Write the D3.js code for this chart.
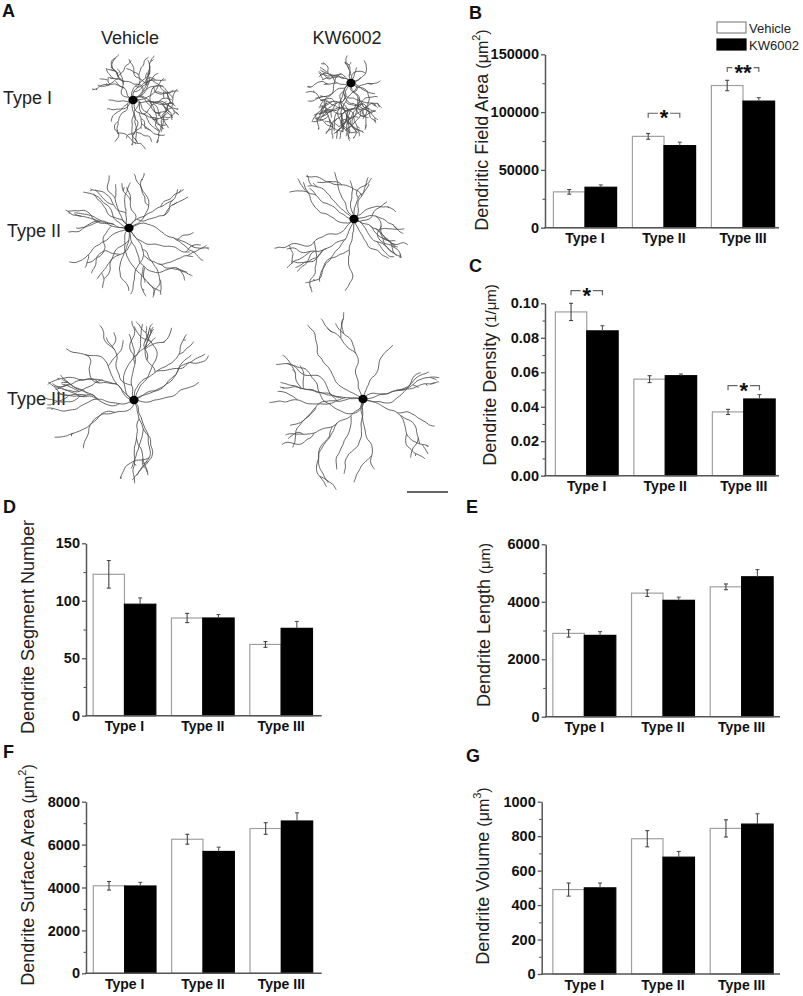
<!DOCTYPE html>
<html><head><meta charset="utf-8">
<script src="https://cdn.jsdelivr.net/npm/d3@7"></script>
<style>
body{margin:0;background:#fff}
text{font-family:Arial,"Liberation Sans",sans-serif}
</style></head>
<body><svg id="fig" width="803" height="996"></svg>
<script>
// ---------------- DATA ----------------
const categories = ["Type I", "Type II", "Type III"];
const seriesNames = ["Vehicle", "KW6002"];

const fieldAreaVehicle = [31000, 79000, 123000];
const fieldAreaVehicleErr = [2000, 2500, 4500];
const fieldAreaKW = [35000, 71000, 109500];
const fieldAreaKWErr = [2000, 3000, 3000];
const fieldAreaTicks = [0, 50000, 100000, 150000];
const fieldAreaSig = [{cat: "Type II", label: "*", level: 99000}, {cat: "Type III", label: "**", level: 138500}];

const densityVehicle = [0.095, 0.056, 0.037];
const densityVehicleErr = [0.005, 0.002, 0.0015];
const densityKW = [0.084, 0.058, 0.0445];
const densityKWErr = [0.003, 0.001, 0.0025];
const densityTicks = [0, 0.02, 0.04, 0.06, 0.08, 0.10];
const densitySig = [{cat: "Type I", label: "*", level: 0.1073}, {cat: "Type III", label: "*", level: 0.0522}];

const segmentVehicle = [123, 85, 62];
const segmentVehicleErr = [12, 4, 2.5];
const segmentKW = [97, 85, 76];
const segmentKWErr = [5.5, 3, 6];
const segmentTicks = [0, 50, 100, 150];

const lengthVehicle = [2900, 4300, 4520];
const lengthVehicleErr = [130, 115, 100];
const lengthKW = [2830, 4050, 4870];
const lengthKWErr = [130, 110, 250];
const lengthTicks = [0, 2000, 4000, 6000];

const surfaceVehicle = [4080, 6250, 6750];
const surfaceVehicleErr = [200, 230, 270];
const surfaceKW = [4070, 5680, 7100];
const surfaceKWErr = [170, 200, 380];
const surfaceTicks = [0, 2000, 4000, 6000, 8000];

const volumeVehicle = [490, 785, 845];
const volumeVehicleErr = [38, 47, 50];
const volumeKW = [500, 678, 870];
const volumeKWErr = [28, 33, 60];
const volumeTicks = [0, 200, 400, 600, 800, 1000];

// ---------------- LAYOUT ----------------
const svg = d3.select("#fig");
const AXIS = "#555";

const panels = [
  {letter: "B", lx: 469, ly: 19, axisX: 545, axisEnd: 779, bx: [545.5, 782.5], y0: 227.7, yTop: 54.3,
   ticks: fieldAreaTicks, fmt: d3.format("d"), v: fieldAreaVehicle, ve: fieldAreaVehicleErr, k: fieldAreaKW, ke: fieldAreaKWErr,
   sig: fieldAreaSig, title: ["Dendritic Field Area ", "(\u03bcm", "2", ")"], tx: 488, ty: 130},
  {letter: "C", lx: 469, ly: 272, axisX: 545, axisEnd: 779, bx: [547.5, 783], y0: 475.7, yTop: 303.3,
   ticks: densityTicks, fmt: d3.format(".2f"), v: densityVehicle, ve: densityVehicleErr, k: densityKW, ke: densityKWErr,
   sig: densitySig, title: ["Dendrite Density ", "(1/\u03bcm)"], tx: 496, ty: 375},
  {letter: "D", lx: 3, ly: 513, axisX: 86, axisEnd: 321.7, bx: [85.3, 320.3], y0: 715.7, yTop: 543.3,
   ticks: segmentTicks, fmt: d3.format("d"), v: segmentVehicle, ve: segmentVehicleErr, k: segmentKW, ke: segmentKWErr,
   sig: [], title: ["Dendrite Segment Number"], tx: 34, ty: 627},
  {letter: "E", lx: 466, ly: 513, axisX: 545.7, axisEnd: 780, bx: [545, 781], y0: 716.7, yTop: 544.3,
   ticks: lengthTicks, fmt: d3.format("d"), v: lengthVehicle, ve: lengthVehicleErr, k: lengthKW, ke: lengthKWErr,
   sig: [], title: ["Dendrite Length ", "(\u03bcm)"], tx: 490, ty: 625},
  {letter: "F", lx: 3, ly: 758, axisX: 86, axisEnd: 321.7, bx: [85.5, 320.5], y0: 973.3, yTop: 801.7,
   ticks: surfaceTicks, fmt: d3.format("d"), v: surfaceVehicle, ve: surfaceVehicleErr, k: surfaceKW, ke: surfaceKWErr,
   sig: [], title: ["Dendrite Surface Area ", "(\u03bcm", "2", ")"], tx: 34, ty: 875},
  {letter: "G", lx: 466, ly: 762, axisX: 541.7, axisEnd: 780, bx: [545, 781], y0: 974, yTop: 801.7,
   ticks: volumeTicks, fmt: d3.format("d"), v: volumeVehicle, ve: volumeVehicleErr, k: volumeKW, ke: volumeKWErr,
   sig: [], title: ["Dendrite Volume ", "(\u03bcm", "3", ")"], tx: 489, ty: 876}
];

function drawTitle(g, p) {
  const t = g.append("text")
    .attr("transform", `translate(${p.tx},${p.ty}) rotate(-90)`)
    .attr("text-anchor", "middle")
    .attr("font-size", 18).attr("fill", "#222");
  t.append("tspan").text(p.title[0]);
  if (p.title.length === 2) {
    t.append("tspan").attr("font-size", 15).text(p.title[1]);
  } else if (p.title.length === 4) {
    t.append("tspan").attr("font-size", 16).text(p.title[1]);
    t.append("tspan").attr("font-size", 11).attr("dy", -8).text(p.title[2]);
    t.append("tspan").attr("font-size", 16).attr("dy", 8).text(p.title[3]);
  }
}

function drawPanel(p) {
  const g = svg.append("g");
  const x = d3.scaleBand().domain(categories).range(p.bx).paddingInner(0.2).paddingOuter(0.1);
  const sub = d3.scaleBand().domain(seriesNames).range([0, x.bandwidth()]);
  const y = d3.scaleLinear().domain([p.ticks[0], p.ticks[p.ticks.length - 1]]).range([p.y0, p.yTop]);

  const rows = [];
  categories.forEach((c, i) => {
    rows.push({c, s: "Vehicle", v: p.v[i], e: p.ve[i]});
    rows.push({c, s: "KW6002", v: p.k[i], e: p.ke[i]});
  });

  g.selectAll("rect.bar").data(rows).join("rect")
    .attr("x", d => x(d.c) + sub(d.s))
    .attr("y", d => y(d.v))
    .attr("width", sub.bandwidth())
    .attr("height", d => p.y0 - y(d.v))
    .attr("fill", d => d.s === "Vehicle" ? "#fff" : "#000")
    .attr("stroke", d => d.s === "Vehicle" ? "#a0a0a0" : "#000")
    .attr("stroke-width", 1.2);

  const eb = g.selectAll("g.err").data(rows).join("g")
    .attr("stroke", d => d.s === "Vehicle" ? "#444" : "#555").attr("stroke-width", 1.1);
  const cx = d => x(d.c) + sub(d.s) + sub.bandwidth() / 2;
  eb.append("line").attr("x1", cx).attr("x2", cx)
    .attr("y1", d => d.s === "Vehicle" ? y(d.v - d.e) : y(d.v)).attr("y2", d => y(d.v + d.e));
  eb.append("line").attr("x1", d => cx(d) - 2).attr("x2", d => cx(d) + 2)
    .attr("y1", d => y(d.v + d.e)).attr("y2", d => y(d.v + d.e));
  eb.filter(d => d.s === "Vehicle").append("line").attr("x1", d => cx(d) - 2).attr("x2", d => cx(d) + 2)
    .attr("y1", d => y(d.v - d.e)).attr("y2", d => y(d.v - d.e));

  const ya = g.append("g").attr("transform", `translate(${p.axisX},0)`)
    .call(d3.axisLeft(y).tickValues(p.ticks).tickSize(4).tickSizeOuter(0).tickPadding(2).tickFormat(p.fmt));
  ya.select(".domain").attr("stroke", AXIS).attr("stroke-width", 1.5);
  ya.selectAll(".tick line").attr("stroke", AXIS).attr("stroke-width", 1.3);
  ya.selectAll(".tick text").attr("font-family", "Arial, 'Liberation Sans', sans-serif")
    .attr("font-size", 14.5).attr("font-weight", "bold").attr("fill", "#111");
  const minor = d3.pairs(p.ticks).map(([a, b]) => (a + b) / 2);
  const ym = g.append("g").attr("transform", `translate(${p.axisX},0)`)
    .call(d3.axisLeft(y).tickValues(minor).tickSize(2.5).tickSizeOuter(0).tickFormat(""));
  ym.select(".domain").remove();
  ym.selectAll(".tick line").attr("stroke", AXIS).attr("stroke-width", 1.1);

  g.append("line").attr("x1", p.axisX - 0.7).attr("x2", p.axisEnd).attr("y1", p.y0).attr("y2", p.y0)
    .attr("stroke", AXIS).attr("stroke-width", 1.5);
  g.selectAll("text.xl").data(categories).join("text")
    .attr("x", c => x(c) + x.bandwidth() / 2).attr("y", p.y0 + 15.5)
    .attr("text-anchor", "middle").attr("font-size", 14).attr("font-weight", "bold").attr("fill", "#111")
    .text(c => c);

  p.sig.forEach(s => {
    const xl = x(s.cat) + sub("Vehicle") + sub.bandwidth() / 2;
    const xr = x(s.cat) + sub("KW6002") + sub.bandwidth() / 2;
    const yy = y(s.level);
    const mid = (xl + xr) / 2;
    const half = s.label.length * 4.6 + 1.5;
    const bg = g.append("g").attr("stroke", "#666").attr("stroke-width", 1.2).attr("fill", "none");
    bg.append("path").attr("d", `M${xl},${yy + 4.5}V${yy}H${mid - half}`);
    bg.append("path").attr("d", `M${xr},${yy + 4.5}V${yy}H${mid + half}`);
    g.append("text").attr("x", mid).attr("y", yy + 12).attr("text-anchor", "middle")
      .attr("font-size", 22).attr("font-weight", "bold").attr("fill", "#111").text(s.label);
  });

  drawTitle(g, p);
  svg.append("text").attr("x", p.lx).attr("y", p.ly).attr("font-size", 18).attr("font-weight", "bold")
    .attr("fill", "#111").text(p.letter);
}
panels.forEach(drawPanel);

const lg = svg.append("g");
seriesNames.forEach((s, i) => {
  lg.append("rect").attr("x", 717).attr("y", 22 + i * 17).attr("width", 29).attr("height", 11)
    .attr("fill", i === 0 ? "#fff" : "#000").attr("stroke", i === 0 ? "#888" : "#000").attr("stroke-width", 1.2);
  lg.append("text").attr("x", 749).attr("y", 32.5 + i * 17).attr("font-size", 13).attr("fill", "#222").text(s);
});

// ---------------- PANEL A : neuron tracings (illustration) ----------------
svg.append("text").attr("x", 2).attr("y", 17).attr("font-size", 18).attr("font-weight", "bold").attr("fill", "#111").text("A");
const colHeads = [{t: seriesNames[0], x: 130}, {t: seriesNames[1], x: 347}];
colHeads.forEach(h => svg.append("text").attr("x", h.x).attr("y", 44).attr("text-anchor", "middle")
  .attr("font-size", 18).attr("fill", "#222").text(h.t));
const rowHeads = [{t: categories[0], x: 3, y: 104}, {t: categories[1], x: 7, y: 237}, {t: categories[2], x: 7, y: 405}];
rowHeads.forEach(h => svg.append("text").attr("x", h.x).attr("y", h.y).attr("font-size", 18).attr("fill", "#222").text(h.t));

function mulberry32(a) {
  return function () {
    a |= 0; a = a + 0x6D2B79F5 | 0;
    let t = Math.imul(a ^ a >>> 15, 1 | a);
    t = t + Math.imul(t ^ t >>> 7, 61 | t) ^ t;
    return ((t ^ t >>> 14) >>> 0) / 4294967296;
  };
}
const typeStyle = {
  "Type I":   {prim: 15, step: 1.7, wig: 1.1, pull: 0.07, branch: 0.11, maxDepth: 4, minSeg: 3, maxBranches: 110, maxSteps: 50, limLo: 0.6, limSpan: 0.5},
  "Type II":  {prim: 16, step: 2.0, wig: 0.85, pull: 0.07, branch: 0.055, maxDepth: 3, minSeg: 5, maxBranches: 60, maxSteps: 110, limLo: 0.8, limSpan: 0.3},
  "Type III": {prim: 13, step: 2.2, wig: 0.75, pull: 0.06, branch: 0.045, maxDepth: 3, minSeg: 6, maxBranches: 50, maxSteps: 150, limLo: 0.8, limSpan: 0.3}
};
const neuronLayout = [
  {type: "Type I", seed: 11, sx: 133, sy: 100, fx: 136, fy: 101, rx: 40, ry: 46},
  {type: "Type I", seed: 23, sx: 351, sy: 83, fx: 345, fy: 96, rx: 36, ry: 40},
  {type: "Type II", seed: 37, sx: 129, sy: 228, fx: 135, fy: 235, rx: 68, ry: 58},
  {type: "Type II", seed: 41, sx: 354, sy: 219, fx: 340, fy: 232, rx: 62, ry: 62},
  {type: "Type III", seed: 53, sx: 134, sy: 400, fx: 132, fy: 400, rx: 85, ry: 75},
  {type: "Type III", seed: 67, sx: 363, sy: 399, fx: 356, fy: 403, rx: 79, ry: 84}
];
function buildNeuron(n) {
  const c = Object.assign({}, typeStyle[n.type], n);
  const rnd = mulberry32(c.seed);
  const paths = [];
  let budget = c.maxBranches;
  function grow(x, y, ang, depth) {
    const pts = [[x, y]];
    const lim = c.limLo + c.limSpan * rnd();
    let steps = 0;
    while (steps < c.maxSteps) {
      const ox = x - c.sx, oy = y - c.sy;
      if (ox * ox + oy * oy > 4) {
        let d = Math.atan2(oy, ox) - ang;
        d = Math.atan2(Math.sin(d), Math.cos(d));
        ang += d * c.pull;
      }
      ang += (rnd() - 0.5) * c.wig;
      x += Math.cos(ang) * c.step; y += Math.sin(ang) * c.step;
      pts.push([x, y]);
      steps++;
      const nx = (x - c.fx) / c.rx, ny = (y - c.fy) / c.ry;
      if (nx * nx + ny * ny > lim * lim) break;
      if (depth < c.maxDepth && budget > 0 && steps > c.minSeg && rnd() < c.branch) {
        budget--;
        const side = rnd() < 0.5 ? -1 : 1;
        grow(x, y, ang + side * (0.4 + 0.6 * rnd()), depth + 1);
      }
    }
    paths.push(pts);
  }
  for (let i = 0; i < c.prim; i++) {
    grow(c.sx, c.sy, i * 2 * Math.PI / c.prim + (rnd() - 0.5) * 0.5, 0);
  }
  return paths;
}
const lineGen = d3.line().curve(d3.curveBasis);
const ng = svg.append("g");
neuronLayout.forEach(n => {
  const paths = buildNeuron(n);
  ng.append("g").selectAll("path").data(paths).join("path")
    .attr("d", lineGen).attr("fill", "none").attr("stroke", "#4a4a4a").attr("stroke-width", 0.85);
  ng.append("ellipse").attr("cx", n.sx).attr("cy", n.sy).attr("rx", 4.6).attr("ry", 4.2).attr("fill", "#000");
});
svg.append("line").attr("x1", 407).attr("x2", 448).attr("y1", 492).attr("y2", 492)
  .attr("stroke", "#666").attr("stroke-width", 2);
</script></body></html>
